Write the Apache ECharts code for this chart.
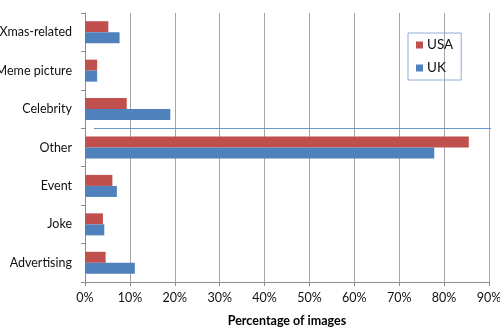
<!DOCTYPE html>
<html>
<head>
<meta charset="utf-8">
<script src="https://cdn.jsdelivr.net/npm/echarts@6/dist/echarts.min.js"></script>
<style>
  html, body { margin: 0; padding: 0; background: #fff; }
  #chart { width: 500px; height: 330px; }
</style>
</head>
<body>
<div id="chart"></div>
<script>
// Image categories, listed top to bottom
const categories = ['Xmas-related', 'Meme picture', 'Celebrity', 'Other', 'Event', 'Joke', 'Advertising'];
// Share of images per category (%)
const usaValues = [5.2, 2.7, 9.3, 85.5, 6.1, 4.0, 4.6];
const ukValues = [7.7, 2.7, 19.0, 77.8, 7.1, 4.3, 11.1];
const seriesNames = ['USA', 'UK'];
const xTicks = { min: 0, max: 90, interval: 10 };
// Separator drawn across the plot between two categories (x range in %)
const separator = { from: 2, to: 90.5, above: 'Celebrity', below: 'Other' };

const font = 'Lato, "Open Sans", sans-serif';
const chart = echarts.init(document.getElementById('chart'), null, { renderer: 'canvas' });

chart.setOption({
  animation: false,
  backgroundColor: '#ffffff',
  textStyle: { fontFamily: font },
  grid: { left: 85, right: 11, top: 13, bottom: 48, containLabel: false, outerBoundsMode: 'none' },
  legend: {
    data: seriesNames,
    orient: 'vertical',
    left: 408,
    top: 33,
    padding: [5, 8, 5, 8],
    itemGap: 9,
    itemWidth: 7,
    itemHeight: 7,
    icon: 'rect',
    borderColor: '#8EAADB',
    borderWidth: 1,
    textStyle: { fontFamily: font, fontSize: 13.5, color: '#111', padding: [0, 0, 0, -1] }
  },
  xAxis: {
    type: 'value',
    min: xTicks.min,
    max: xTicks.max,
    interval: xTicks.interval,
    name: 'Percentage of images',
    nameLocation: 'middle',
    nameGap: 32,
    nameTextStyle: { fontFamily: font, fontSize: 12.5, fontWeight: 'bold', color: '#000' },
    axisLine: { show: true, lineStyle: { color: '#8c8c8c', width: 1 } },
    axisTick: { show: true, length: 4, lineStyle: { color: '#8c8c8c' } },
    axisLabel: { formatter: '{value}%', fontFamily: font, fontSize: 12.5, color: '#111', margin: 9 },
    splitLine: { show: true, lineStyle: { color: '#a6a6a6', width: 1 } }
  },
  yAxis: {
    type: 'category',
    data: categories,
    inverse: true,
    axisLine: { show: true, lineStyle: { color: '#8c8c8c', width: 1 } },
    axisTick: { show: true, length: 4, lineStyle: { color: '#8c8c8c' } },
    axisLabel: { fontFamily: font, fontSize: 12.5, color: '#111', margin: 13 }
  },
  series: [
    {
      name: seriesNames[0],
      type: 'bar',
      data: usaValues,
      barWidth: 11,
      barGap: '0%',
      itemStyle: { color: '#C0504D' }
    },
    {
      name: seriesNames[1],
      type: 'bar',
      data: ukValues,
      barWidth: 11,
      barGap: '0%',
      itemStyle: { color: '#4F81BD' }
    }
  ]
});

// Place the separator between the two category bands using the chart's own scales
function drawSeparator() {
  const yA = chart.convertToPixel({ yAxisIndex: 0 }, separator.above);
  const yB = chart.convertToPixel({ yAxisIndex: 0 }, separator.below);
  const y = Math.round((yA + yB) / 2) + 0.5;
  const x1 = chart.convertToPixel({ xAxisIndex: 0 }, separator.from);
  const x2 = chart.convertToPixel({ xAxisIndex: 0 }, separator.to);
  chart.setOption({
    graphic: [{
      type: 'line',
      shape: { x1: x1, y1: y, x2: x2, y2: y },
      style: { stroke: '#6A97D0', lineWidth: 1 },
      z: 10
    }]
  });
}
drawSeparator();
</script>
</body>
</html>
